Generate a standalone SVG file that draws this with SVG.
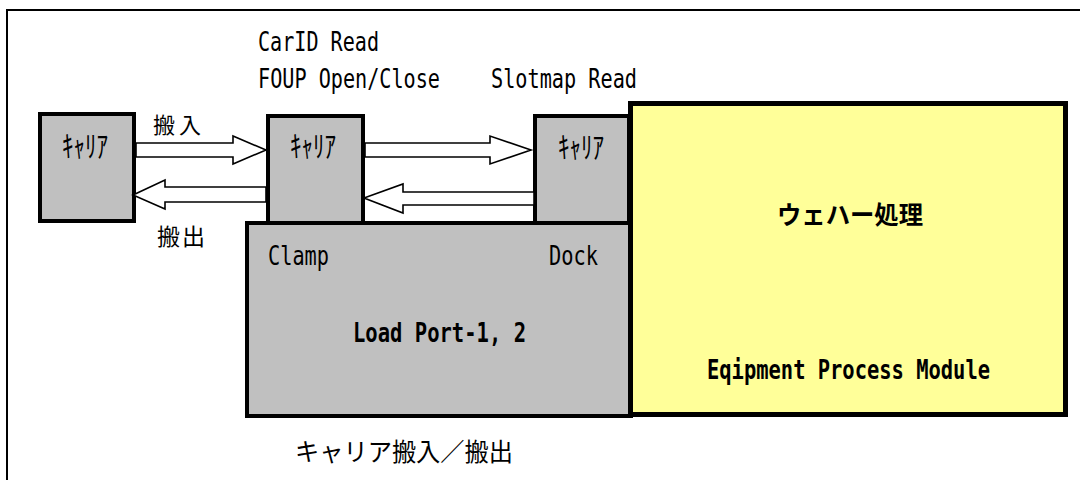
<svg xmlns="http://www.w3.org/2000/svg" width="1080" height="480" viewBox="0 0 1080 480">
<style>
.box{fill:#c0c0c0;stroke:#000;stroke-width:4}
.lp{fill:#c0c0c0;stroke:#000;stroke-width:4}
.eq{fill:#ffff99;stroke:#000;stroke-width:5}
.arr{fill:#fff;stroke:#000;stroke-width:1.6;stroke-linejoin:miter}
.lat{font-family:"DejaVu Sans Mono","Liberation Mono",monospace;font-size:26px;fill:#000}
.b{font-weight:bold}
.jp{font-family:"Noto Sans CJK JP","Noto Sans",sans-serif;fill:#000}
.kk{font-family:"Noto Sans CJK JP","Noto Sans",sans-serif;font-size:30px;fill:#000}
</style>
<rect x="7" y="10" width="1100" height="500" fill="#fff" stroke="#000" stroke-width="2"/>
<text class="lat" x="258" y="51" textLength="121" lengthAdjust="spacingAndGlyphs">CarID Read</text>
<text class="lat" x="258" y="88" textLength="182" lengthAdjust="spacingAndGlyphs">FOUP Open/Close</text>
<text class="lat" x="491" y="88" textLength="146" lengthAdjust="spacingAndGlyphs">Slotmap Read</text>
<g id="carrier-left">
<rect class="box" x="40" y="114" width="94" height="107"/>
<text class="kk" x="62" y="157" textLength="46" lengthAdjust="spacingAndGlyphs">ｷｬﾘｱ</text>
</g>
<g id="carrier-mid">
<rect class="box" x="268" y="116" width="95" height="108"/>
<text class="kk" x="290" y="157" textLength="46" lengthAdjust="spacingAndGlyphs">ｷｬﾘｱ</text>
</g>
<g id="carrier-right">
<rect class="box" x="535" y="116" width="94" height="108"/>
<text class="kk" x="558" y="158" textLength="46" lengthAdjust="spacingAndGlyphs">ｷｬﾘｱ</text>
</g>
<g id="load-port">
<rect class="lp" x="247" y="223" width="384" height="193"/>
<text class="lat" x="268" y="265" textLength="61" lengthAdjust="spacingAndGlyphs">Clamp</text>
<text class="lat" x="549" y="265" textLength="49" lengthAdjust="spacingAndGlyphs">Dock</text>
<text class="lat b" x="353" y="342" textLength="173" lengthAdjust="spacingAndGlyphs">Load Port-1, 2</text>
</g>
<g id="process-module">
<rect class="eq" x="630.5" y="103.5" width="435" height="311"/>
<text class="jp b" x="777" y="224" font-size="25" textLength="146" lengthAdjust="spacingAndGlyphs">ウェハー処理</text>
<text class="lat b" x="707" y="379" textLength="283" lengthAdjust="spacingAndGlyphs">Eqipment Process Module</text>
</g>
<g id="connectors">
<polygon class="arr" points="136,143 233,143 233,136 266,150 233,164 233,157 136,157"/>
<polygon class="arr" points="266,187 165,187 165,180 133,195 165,209 165,202 266,202"/>
<polygon class="arr" points="365,143 490,143 490,136 531,150 490,164 490,157 365,157"/>
<polygon class="arr" points="534,192 403,192 403,184 364,198 403,213 403,205 534,205"/>
</g>
<text class="jp" x="153" y="133" font-size="22" letter-spacing="4">搬入</text>
<text class="jp" x="157" y="245" font-size="23" letter-spacing="2">搬出</text>
<text class="jp" x="295" y="461" font-size="25" textLength="218" lengthAdjust="spacingAndGlyphs">キャリア搬入／搬出</text>
</svg>
